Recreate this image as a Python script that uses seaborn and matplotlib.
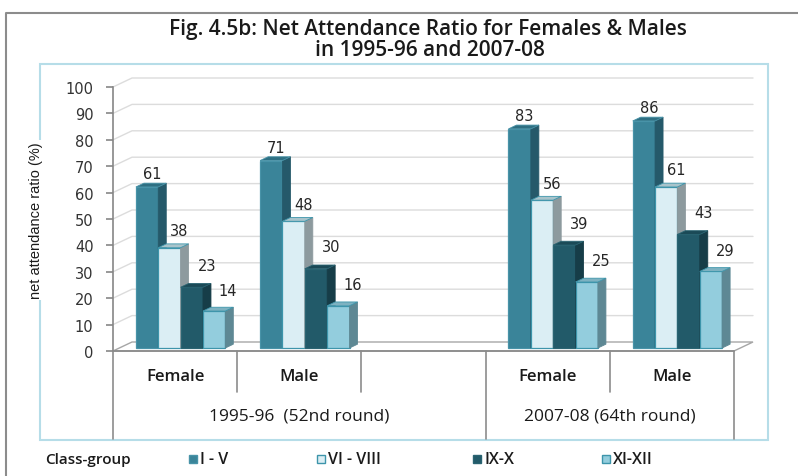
import matplotlib
matplotlib.use("Agg")
import pandas as pd
import matplotlib.pyplot as plt
import seaborn as sns
import matplotlib.transforms as mtransforms
from matplotlib.patches import Polygon, Rectangle
from matplotlib.lines import Line2D
from matplotlib.colors import to_rgba

# chart values
periods = ["1995-96  (52nd round)", "2007-08 (64th round)"]
sexes = ["Female", "Male"]
class_groups = ["I - V", "VI - VIII", "IX-X", "XI-XII"]
nar_1995_female = [61, 38, 23, 14]
nar_1995_male = [71, 48, 30, 16]
nar_2007_female = [83, 56, 39, 25]
nar_2007_male = [86, 61, 43, 29]
y_ticks = list(range(0, 101, 10))

# slot 2 is left empty between the two rounds
slot_x = [0, 1, 3, 4]
series = [
    (periods[0], sexes[0], nar_1995_female),
    (periods[0], sexes[1], nar_1995_male),
    (periods[1], sexes[0], nar_2007_female),
    (periods[1], sexes[1], nar_2007_male),
]
rows = []
for x, (period, sex, vals) in zip(slot_x, series):
    for cg, v in zip(class_groups, vals):
        rows.append({"x": x, "period": period, "sex": sex, "cls": cg, "value": v})
df = pd.DataFrame(rows)

front_colors = ["#3a8499", "#dbeef4", "#225a69", "#93cddd"]
side_colors = ["#25596a", "#8d9a9e", "#163d48", "#5e8894"]
top_colors = ["#2e6f82", "#a9c4cb", "#1b4a57", "#7eb2c1"]
edge_colors = ["#4893a8", "#3d95ab", "#2a6472", "#3d95ab"]

sns.set_style("white")
plt.rcParams["font.family"] = ["DejaVu Sans"]
ui_font = ["Open Sans", "Lato", "DejaVu Sans"]

W, H = 798, 477
fig = plt.figure(figsize=(W / 100, H / 100), dpi=100)


def fx(px):
    return px / W


def fy(py):
    return 1 - py / H


ax = fig.add_axes([fx(113), fy(352), 621 / W, 264 / H])
ax.patch.set_alpha(0)

sns.barplot(data=df, x="x", y="value", hue="cls", hue_order=class_groups,
            palette=front_colors, native_scale=True, width=0.72, saturation=1,
            errorbar=None, legend=False, ax=ax)
bars = sorted(list(ax.patches), key=lambda r: r.get_x())

ax.set_xlim(-0.5, 4.5)
ax.set_ylim(0, 100)
ax.set_yticks(y_ticks)
ax.set_xticks([])
ax.set_xlabel("")
ax.set_ylabel("")
for s in ["top", "right", "bottom"]:
    ax.spines[s].set_visible(False)
ax.spines["left"].set_color("#868686")
ax.spines["left"].set_linewidth(1.2)
ax.tick_params(axis="y", length=5, width=1.2, color="#868686", labelsize=10.5,
               labelcolor="#333333", pad=9, left=True)

# pseudo 3D geometry (data units)
px_x = 621 / 5
px_y = 264 / 100
wdx, wdy = 19 / px_x, 9 / px_y       # back wall offset
bsx, bsy = 5.5 / px_x, 3 / px_y      # bar set back from the front
bdx, bdy = 8 / px_x, 3.8 / px_y      # bar depth

# floor and gridlines
floor = Polygon([(-0.5, 0), (4.5, 0), (4.5 + wdx, wdy), (-0.5 + wdx, wdy)],
                closed=True, facecolor="white", edgecolor="#a6a6a6", lw=1,
                zorder=1, clip_on=False)
ax.add_patch(floor)
ax.plot([-0.5, 4.5], [0, 0], color="#8c8c8c", lw=1.3, zorder=1.1, clip_on=False)
for v in y_ticks[1:]:
    ax.plot([-0.5, -0.5 + wdx, 4.5 + wdx], [v, v + wdy, v + wdy],
            color="#dcdcdc", lw=1, zorder=0.5, clip_on=False)

label_dx = [5, 10, 15, 14]
label_dy = [13, 17, 22, 21]
for rank, r in enumerate(bars):
    fc = r.get_facecolor()
    k = min(range(4), key=lambda i: sum(abs(a - b) for a, b in zip(fc, to_rgba(front_colors[i]))))
    x0 = r.get_x() + bsx
    w = r.get_width()
    h = r.get_height()
    z = 3 + rank * 0.1
    r.set_x(x0)
    r.set_y(bsy)
    r.set_edgecolor(edge_colors[k])
    r.set_linewidth(0.9)
    r.set_zorder(z)
    r.set_clip_on(False)
    side = Polygon([(x0 + w, bsy), (x0 + w + bdx, bsy + bdy),
                    (x0 + w + bdx, bsy + h + bdy), (x0 + w, bsy + h)],
                   closed=True, facecolor=side_colors[k], edgecolor=side_colors[k],
                   lw=0.6, zorder=z, clip_on=False)
    top = Polygon([(x0, bsy + h), (x0 + bdx, bsy + h + bdy),
                   (x0 + w + bdx, bsy + h + bdy), (x0 + w, bsy + h)],
                  closed=True, facecolor=top_colors[k], edgecolor=edge_colors[k],
                  lw=0.6, zorder=z, clip_on=False)
    ax.add_patch(side)
    ax.add_patch(top)
    ax.annotate(f"{h:.0f}", xy=(x0 + w / 2, bsy + h), xytext=(label_dx[k], label_dy[k]),
                textcoords="offset pixels", ha="center", va="center",
                fontsize=10.5, color="#262626", zorder=10, annotation_clip=False)

# multi-level category axis below the floor
blend = mtransforms.blended_transform_factory(ax.transData, fig.transFigure)
for xb in [-0.5, 2.5, 4.5]:
    fig.add_artist(Line2D([xb, xb], [fy(352), fy(440)], transform=blend,
                          color="#8c8c8c", lw=1.2))
for xb in [0.5, 1.5, 3.5]:
    fig.add_artist(Line2D([xb, xb], [fy(352), fy(393)], transform=blend,
                          color="#8c8c8c", lw=1.2))
for x, (period, sex, vals) in zip(slot_x, series):
    fig.text(x, fy(377), sex, transform=blend, ha="center", va="center",
             fontsize=12, fontweight="semibold", family=ui_font, color="#1a1a1a")
fig.text(1.0, fy(417), periods[0], transform=blend, ha="center", va="center",
         fontsize=12.5, family=ui_font, color="#1a1a1a")
fig.text(3.5, fy(417), periods[1], transform=blend, ha="center", va="center",
         fontsize=12.5, family=ui_font, color="#1a1a1a")

# frames
fig.add_artist(Rectangle((fx(40), fy(441)), 728 / W, 376 / H, transform=fig.transFigure,
                         fill=False, edgecolor="#b6dde8", lw=1.5, zorder=0))
fig.add_artist(Line2D([fx(6), fx(6), 1.0], [0.0, fy(14), fy(14)],
                      transform=fig.transFigure, color="#8c8c8c", lw=1.5))

# title
fig.text(fx(428), fy(29), "Fig. 4.5b: Net Attendance Ratio for Females & Males",
         ha="center", va="center", fontsize=15, fontweight="semibold",
         family=ui_font, color="#1a1a1a")
fig.text(fx(430), fy(50), "in 1995-96 and 2007-08", ha="center", va="center",
         fontsize=15, fontweight="semibold", family=ui_font, color="#1a1a1a")

# y label
fig.text(fx(36), fy(221), "net attendance ratio (%)", rotation=90, ha="center",
         va="center", fontsize=10.5, fontstretch="condensed",
         family=["Liberation Sans Narrow", "Liberation Sans", "DejaVu Sans"],
         color="#1a1a1a", zorder=5,
         bbox=dict(facecolor="white", edgecolor="none", pad=1))

# legend
fig.text(fx(45), fy(460), "Class-group", ha="left", va="center", fontsize=11,
         fontweight="semibold", family=ui_font, color="#1a1a1a")
marker_px = [193, 321, 477, 606]
for k, (cg, mx) in enumerate(zip(class_groups, marker_px)):
    fig.add_artist(Rectangle((fx(mx - 4), fy(464)), 8 / W, 8 / H, transform=fig.transFigure,
                             facecolor=front_colors[k], edgecolor=edge_colors[k], lw=1))
    fig.text(fx(mx + 7), fy(460), cg, ha="left", va="center", fontsize=11.5,
             fontweight="semibold", family=ui_font, color="#1a1a1a")

fig.savefig("out.png", dpi=100)
